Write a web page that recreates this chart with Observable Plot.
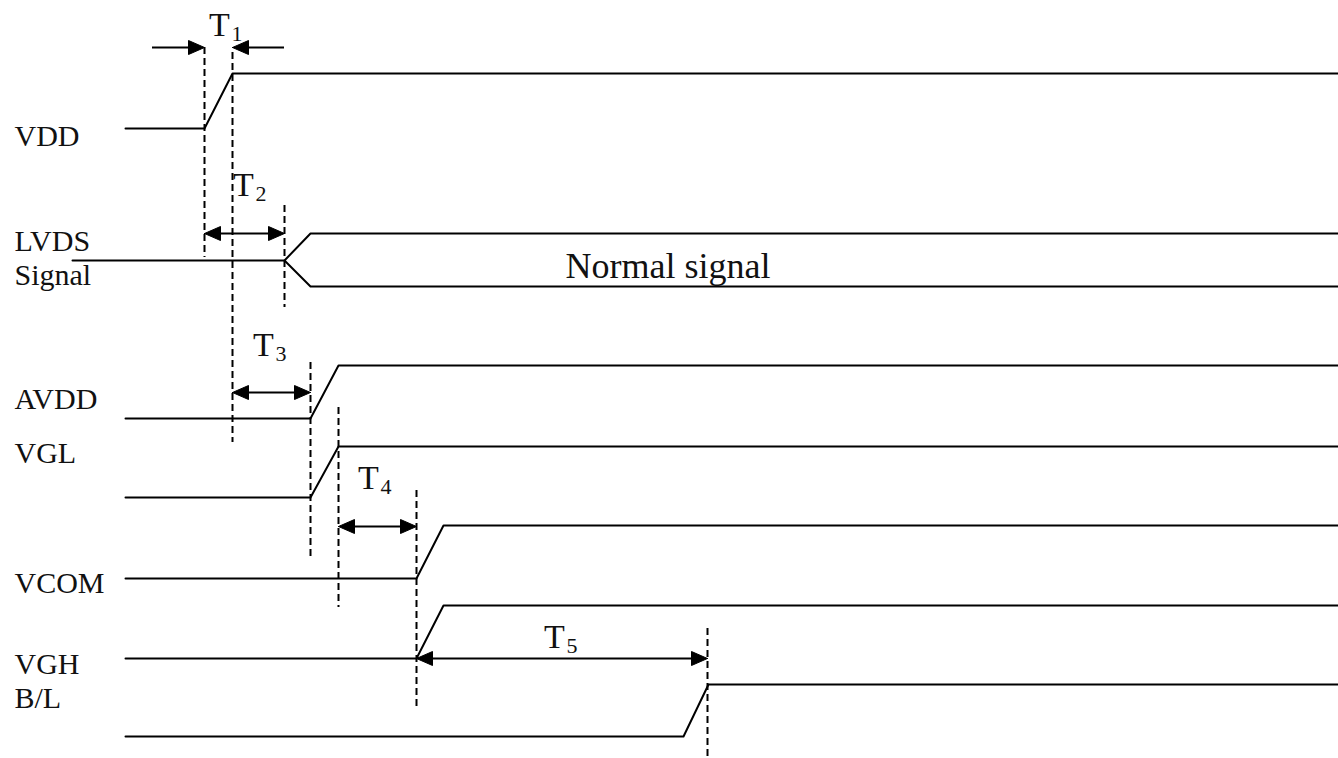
<!DOCTYPE html>
<html>
<head>
<meta charset="utf-8">
<script src="https://cdn.jsdelivr.net/npm/d3@7"></script>
<script src="https://cdn.jsdelivr.net/npm/@observablehq/plot@0.6"></script>
<style>
  html, body { margin: 0; padding: 0; background: #fff; }
  svg { display: block; }
</style>
</head>
<body>
<div id="chart"></div>
<script>
// ---- Data (time units along x, signal level units along y) ----
const signals    = ["VDD", "LVDS", "AVDD", "VGL", "VCOM", "VGH", "B/L"];
const lineStart  = [125, 72, 125, 125, 125, 125, 125];
const lowLevel   = [128, 260, 418, 497, 578, 658, 736];
const highLevel  = [73, 233, 365, 446, 525, 605, 684];
const riseStart  = [204, 284, 310, 310, 416, 416, 683];
const riseEnd    = [232, 310, 338, 338, 443, 443, 708];
const lvdsLowBranch = 286;
const timeEnd = 1338;

const labelTexts = ["VDD", "LVDS", "Signal", "AVDD", "VGL", "VCOM", "VGH", "B/L"];
const labelBase  = [145, 250, 284, 408, 462, 592, 673, 707];

// dashed time markers: x, y from, y to
const markerX    = [204, 232, 284, 310, 338, 416, 707];
const markerTop  = [47, 52, 205, 362, 407, 490, 628];
const markerBot  = [257, 442, 307, 557, 607, 710, 758];

// interval annotations
const intervalNames = ["1", "2", "3", "4", "5"];
const intervalFrom  = [204, 204, 232, 338, 416];
const intervalTo    = [232, 284, 310, 416, 707];
const intervalLevel = [47, 233, 392, 526, 658];
const intervalLabelX = [219, 243, 263, 368, 554];
const intervalLabelBase = [35, 195, 355, 488, 647];
// T1 uses outside arrows
const t1OuterLeft = 152, t1OuterRight = 284;

const normalSignalText = "Normal signal";
const normalSignalX = 565, normalSignalBase = 277;

// ---- Build mark data ----
const waves = [];
signals.forEach((s, i) => {
  if (s === "LVDS") {
    [[lineStart[i], lowLevel[i]], [riseStart[i], lowLevel[i]], [riseEnd[i], highLevel[i]], [timeEnd, highLevel[i]]]
      .forEach(([x, y]) => waves.push({id: s + "a", x, y}));
    [[riseStart[i], lowLevel[i]], [riseEnd[i], lvdsLowBranch], [timeEnd, lvdsLowBranch]]
      .forEach(([x, y]) => waves.push({id: s + "b", x, y}));
  } else {
    [[lineStart[i], lowLevel[i]], [riseStart[i], lowLevel[i]], [riseEnd[i], highLevel[i]], [timeEnd, highLevel[i]]]
      .forEach(([x, y]) => waves.push({id: s, x, y}));
  }
});

const markers = markerX.map((x, i) => ({x, y1: markerTop[i], y2: markerBot[i]}));

const shafts = [];
const heads = [];
const headLen = 16, headHalf = 7;
function addHead(id, tip, y, dir) {
  // dir = +1 pointing right, -1 pointing left
  const pts = [[tip, y], [tip - dir * headLen, y - headHalf], [tip - dir * headLen, y + headHalf], [tip, y]];
  pts.forEach(([x, yy]) => heads.push({id, x, y: yy}));
}
intervalNames.forEach((n, i) => {
  const y = intervalLevel[i];
  if (n === "1") {
    shafts.push({x1: t1OuterLeft, x2: intervalFrom[i] - 4, y});
    shafts.push({x1: intervalTo[i] + 4, x2: t1OuterRight, y});
    addHead("h1a", intervalFrom[i], y, +1);
    addHead("h1b", intervalTo[i], y, -1);
  } else {
    shafts.push({x1: intervalFrom[i] + 4, x2: intervalTo[i] - 4, y});
    addHead("h" + n + "a", intervalFrom[i], y, -1);
    addHead("h" + n + "b", intervalTo[i], y, +1);
  }
});

const labels = labelTexts.map((t, i) => ({t, y: labelBase[i]}));
const tMain = intervalNames.map((n, i) => ({t: "T", x: intervalLabelX[i], y: intervalLabelBase[i]}));
const tSub = intervalNames.map((n, i) => ({t: n, x: intervalLabelX[i] + 12, y: intervalLabelBase[i] + 5}));

const font = "'Liberation Serif', 'Times New Roman', serif";
const labelSize = 30;
const tSize = 34;
// convert baseline to middle anchor
const mid = (base, size) => base - 0.32 * size;

const chart = Plot.plot({
  width: 1338,
  height: 758,
  margin: 0,
  x: {domain: [0, 1338], axis: null},
  y: {domain: [0, 758], reverse: true, axis: null},
  style: {background: "#fff"},
  marks: [
    Plot.ruleX(markers, {x: "x", y1: "y1", y2: "y2", stroke: "#000", strokeWidth: 2, strokeDasharray: "7,4"}),
    Plot.line(waves, {x: "x", y: "y", z: "id", stroke: "#000", strokeWidth: 2, curve: "linear"}),
    Plot.ruleY(shafts, {y: "y", x1: "x1", x2: "x2", stroke: "#000", strokeWidth: 2}),
    Plot.line(heads, {x: "x", y: "y", z: "id", fill: "#000", stroke: "#000", strokeWidth: 1}),
    Plot.text(labels, {x: () => 14, y: d => mid(d.y, labelSize), text: "t", textAnchor: "start", fontSize: labelSize, fontFamily: font, fill: "#111"}),
    Plot.text(tMain, {x: "x", y: d => mid(d.y, tSize), text: "t", textAnchor: "middle", fontSize: tSize, fontFamily: font, fill: "#111"}),
    Plot.text(tSub, {x: "x", y: d => mid(d.y, 22), text: "t", textAnchor: "start", fontSize: 22, fontFamily: font, fill: "#111"}),
    Plot.text([normalSignalText], {x: () => normalSignalX, y: () => mid(normalSignalBase, 36), text: d => d, textAnchor: "start", fontSize: 36, fontFamily: font, fill: "#111"})
  ]
});
document.getElementById("chart").appendChild(chart);
</script>
</body>
</html>
